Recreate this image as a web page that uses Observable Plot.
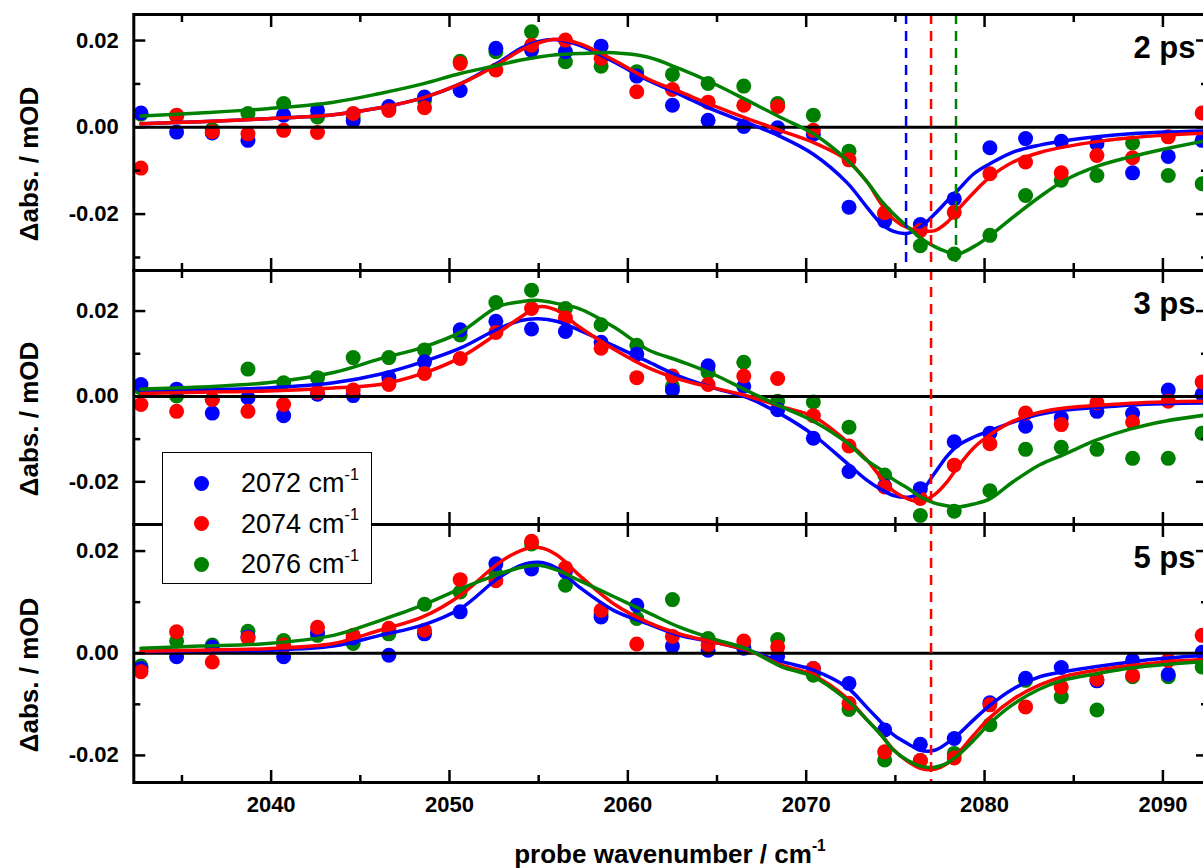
<!DOCTYPE html>
<html>
<head>
<meta charset="utf-8">
<script src="https://cdn.jsdelivr.net/npm/d3@7"></script>
<script src="https://cdn.jsdelivr.net/npm/@observablehq/plot@0.6"></script>
<style>
html, body { margin: 0; padding: 0; background: #fff; overflow: hidden; }
#wrap { position: relative; width: 1203px; height: 868px; overflow: hidden; font-family: Arial, "Liberation Sans", sans-serif; color: #000; }
.panel { position: absolute; left: 0; }
.ytitle { position: absolute; left: 29px; transform: translate(-50%, -50%) rotate(-90deg); white-space: nowrap; font-size: 26px; font-weight: bold; }
#xtitle { position: absolute; left: 670px; top: 854px; transform: translate(-50%, -50%); white-space: nowrap; font-size: 26px; font-weight: bold; }
sup { font-size: 60%; vertical-align: 0; position: relative; top: -0.75em; }
#legend { position: absolute; left: 162px; top: 452px; width: 210px; height: 132px; box-sizing: border-box; border: 1.5px solid #000; background: #fff; }
.lg-dot { position: absolute; width: 15px; height: 15px; border-radius: 50%; }
.lg-text { position: absolute; left: 78px; transform: translateY(-50%); font-size: 27px; white-space: nowrap; }
</style>
</head>
<body>
<div id="wrap"></div>
<script>
// ---------------- data ----------------
const delays = ["2 ps", "3 ps", "5 ps"];
const pumpWavenumbers = ["2072", "2074", "2076"];
const colors = ["#0000ff", "#ff0000", "#008000"];

const xProbe = [2032.7, 2034.7, 2036.7, 2038.7, 2040.7, 2042.6, 2044.6, 2046.6, 2048.6, 2050.6,
  2052.6, 2054.6, 2056.5, 2058.5, 2060.5, 2062.5, 2064.5, 2066.5, 2068.4, 2070.4,
  2072.4, 2074.4, 2076.4, 2078.3, 2080.3, 2082.3, 2084.3, 2086.3, 2088.3, 2090.3, 2092.2];

// measured points, 2 ps
const blue2ps = [0.0033, -0.0011, -0.0013, -0.0030, 0.0028, 0.0039, 0.0015, 0.0048, 0.0070, 0.0085, 0.0182, 0.0178, 0.0174, 0.0187, 0.0118, 0.0051, 0.0016, 0.0002, -0.0001, -0.0016, -0.0184, -0.0216, -0.0224, -0.0165, -0.0047, -0.0026, -0.0032, -0.0038, -0.0105, -0.0067, -0.0030];
const red2ps = [-0.0094, 0.0028, -0.0010, -0.0015, -0.0007, -0.0012, 0.0032, 0.0039, 0.0045, 0.0147, 0.0132, 0.0189, 0.0201, 0.0159, 0.0082, 0.0087, 0.0058, 0.0051, 0.0048, -0.0007, -0.0075, -0.0197, -0.0238, -0.0196, -0.0107, -0.0080, -0.0105, -0.0065, -0.0070, -0.0022, 0.0033];
const green2ps = [0.0030, 0.0025, -0.0005, 0.0032, 0.0055, 0.0024, 0.0022, 0.0042, 0.0062, 0.0152, 0.0174, 0.0220, 0.0151, 0.0141, 0.0128, 0.0122, 0.0101, 0.0095, 0.0055, 0.0028, -0.0055, -0.0200, -0.0273, -0.0292, -0.0249, -0.0157, -0.0122, -0.0111, -0.0036, -0.0111, -0.0130];
// measured points, 3 ps
const blue3ps = [0.0028, 0.0017, -0.0039, -0.0003, -0.0045, 0.0005, 0.0002, 0.0044, 0.0081, 0.0156, 0.0176, 0.0158, 0.0152, 0.0127, 0.0099, 0.0015, 0.0072, 0.0024, -0.0031, -0.0098, -0.0176, -0.0210, -0.0216, -0.0106, -0.0086, -0.0070, -0.0050, -0.0035, -0.0040, 0.0015, 0.0005];
const red3ps = [-0.0019, -0.0035, -0.0007, -0.0035, -0.0019, 0.0010, 0.0015, 0.0028, 0.0054, 0.0089, 0.0150, 0.0206, 0.0184, 0.0113, 0.0044, 0.0048, 0.0028, 0.0048, 0.0042, -0.0045, -0.0116, -0.0212, -0.0239, -0.0161, -0.0111, -0.0039, -0.0066, -0.0015, -0.0060, -0.0011, 0.0034];
const green3ps = [0.0020, 0.0001, -0.0007, 0.0064, 0.0032, 0.0044, 0.0091, 0.0091, 0.0109, 0.0144, 0.0220, 0.0249, 0.0206, 0.0168, 0.0120, 0.0024, 0.0056, 0.0080, -0.0011, -0.0013, -0.0072, -0.0184, -0.0279, -0.0269, -0.0221, -0.0124, -0.0119, -0.0124, -0.0145, -0.0145, -0.0086];
// measured points, 5 ps
const blue5ps = [-0.0030, -0.0007, 0.0012, 0.0032, -0.0007, 0.0040, 0.0030, -0.0004, 0.0038, 0.0081, 0.0175, 0.0165, 0.0160, 0.0071, 0.0094, 0.0014, 0.0006, 0.0010, -0.0006, -0.0030, -0.0059, -0.0150, -0.0178, -0.0167, -0.0097, -0.0049, -0.0028, -0.0054, -0.0014, -0.0041, 0.0002];
const red5ps = [-0.0036, 0.0042, -0.0017, 0.0030, 0.0016, 0.0051, 0.0035, 0.0049, 0.0045, 0.0144, 0.0142, 0.0219, 0.0167, 0.0084, 0.0018, 0.0033, 0.0016, 0.0024, 0.0012, -0.0030, -0.0098, -0.0193, -0.0210, -0.0205, -0.0101, -0.0105, -0.0066, -0.0051, -0.0043, -0.0014, 0.0035];
const green5ps = [-0.0025, 0.0024, 0.0016, 0.0043, 0.0025, 0.0035, 0.0019, 0.0038, 0.0096, 0.0120, 0.0156, 0.0214, 0.0133, 0.0077, 0.0068, 0.0105, 0.0029, 0.0012, 0.0027, -0.0043, -0.0110, -0.0209, -0.0210, -0.0196, -0.0140, -0.0053, -0.0085, -0.0111, -0.0046, -0.0046, -0.0027];

// fitted curves
const curveX = [2032.7, 2036.0, 2039.8, 2043.5, 2046.1, 2048.5, 2050.6, 2052.7, 2054.0, 2055.0, 2056.0, 2057.3, 2059.2, 2061.1, 2062.9, 2064.8, 2066.7, 2068.6, 2070.4, 2072.3, 2073.4, 2074.2, 2074.9, 2075.7, 2076.4, 2077.2, 2077.9, 2078.5, 2079.4, 2080.3, 2081.6, 2083.1, 2084.5, 2086.3, 2088.2, 2090.1, 2092.5];
const fitBlue2ps = [0.0008, 0.0013, 0.0020, 0.0029, 0.0045, 0.0068, 0.0100, 0.0148, 0.0182, 0.0198, 0.0202, 0.0189, 0.0151, 0.0109, 0.0076, 0.0040, 0.0010, -0.0022, -0.0062, -0.0128, -0.0184, -0.0222, -0.0240, -0.0244, -0.0230, -0.0200, -0.0170, -0.0145, -0.0107, -0.0084, -0.0057, -0.0041, -0.0031, -0.0022, -0.0015, -0.0011, -0.0008];
const fitRed2ps = [0.0008, 0.0013, 0.0020, 0.0029, 0.0045, 0.0068, 0.0100, 0.0145, 0.0178, 0.0195, 0.0203, 0.0193, 0.0155, 0.0112, 0.0082, 0.0050, 0.0020, -0.0008, -0.0035, -0.0076, -0.0125, -0.0176, -0.0212, -0.0232, -0.0238, -0.0238, -0.0219, -0.0190, -0.0150, -0.0115, -0.0080, -0.0058, -0.0045, -0.0033, -0.0024, -0.0018, -0.0013];
const fitGreen2ps = [0.0026, 0.0033, 0.0043, 0.0058, 0.0078, 0.0100, 0.0124, 0.0143, 0.0155, 0.0162, 0.0167, 0.0170, 0.0172, 0.0162, 0.0135, 0.0101, 0.0062, 0.0022, -0.0015, -0.0076, -0.0125, -0.0169, -0.0200, -0.0230, -0.0255, -0.0275, -0.0287, -0.0292, -0.0275, -0.0250, -0.0207, -0.0160, -0.0122, -0.0090, -0.0068, -0.0050, -0.0030];
const fitBlue3ps = [0.0013, 0.0016, 0.0020, 0.0032, 0.0052, 0.0081, 0.0113, 0.0158, 0.0178, 0.0182, 0.0176, 0.0155, 0.0119, 0.0082, 0.0047, 0.0020, -0.0003, -0.0042, -0.0090, -0.0157, -0.0196, -0.0218, -0.0232, -0.0236, -0.0224, -0.0180, -0.0140, -0.0115, -0.0095, -0.0080, -0.0060, -0.0042, -0.0032, -0.0026, -0.0020, -0.0017, -0.0015];
const fitRed3ps = [0.0007, 0.0010, 0.0013, 0.0020, 0.0028, 0.0054, 0.0091, 0.0148, 0.0186, 0.0210, 0.0202, 0.0162, 0.0111, 0.0068, 0.0040, 0.0020, 0.0001, -0.0024, -0.0047, -0.0106, -0.0149, -0.0190, -0.0222, -0.0240, -0.0246, -0.0230, -0.0200, -0.0165, -0.0120, -0.0090, -0.0058, -0.0037, -0.0027, -0.0021, -0.0016, -0.0013, -0.0011];
const fitGreen3ps = [0.0017, 0.0022, 0.0032, 0.0056, 0.0088, 0.0115, 0.0150, 0.0210, 0.0222, 0.0225, 0.0218, 0.0205, 0.0163, 0.0110, 0.0083, 0.0052, 0.0013, -0.0024, -0.0058, -0.0109, -0.0150, -0.0172, -0.0195, -0.0215, -0.0235, -0.0250, -0.0256, -0.0259, -0.0252, -0.0240, -0.0200, -0.0160, -0.0135, -0.0102, -0.0076, -0.0058, -0.0043];
const fitBlue5ps = [0.0003, 0.0005, 0.0006, 0.0014, 0.0035, 0.0055, 0.0087, 0.0146, 0.0172, 0.0178, 0.0167, 0.0129, 0.0084, 0.0058, 0.0035, 0.0022, 0.0006, -0.0016, -0.0033, -0.0067, -0.0106, -0.0135, -0.0160, -0.0177, -0.0190, -0.0190, -0.0176, -0.0160, -0.0130, -0.0102, -0.0070, -0.0046, -0.0036, -0.0026, -0.0017, -0.0010, -0.0004];
const fitRed5ps = [0.0004, 0.0006, 0.0009, 0.0019, 0.0045, 0.0071, 0.0113, 0.0175, 0.0201, 0.0207, 0.0193, 0.0152, 0.0097, 0.0061, 0.0038, 0.0022, 0.0006, -0.0023, -0.0043, -0.0088, -0.0130, -0.0159, -0.0189, -0.0212, -0.0225, -0.0227, -0.0216, -0.0196, -0.0160, -0.0126, -0.0090, -0.0062, -0.0045, -0.0033, -0.0024, -0.0017, -0.0012];
const fitGreen5ps = [0.0010, 0.0014, 0.0019, 0.0035, 0.0064, 0.0094, 0.0126, 0.0154, 0.0168, 0.0172, 0.0163, 0.0142, 0.0111, 0.0080, 0.0051, 0.0028, 0.0008, -0.0026, -0.0046, -0.0092, -0.0130, -0.0160, -0.0190, -0.0210, -0.0221, -0.0223, -0.0215, -0.0200, -0.0170, -0.0137, -0.0100, -0.0070, -0.0052, -0.0040, -0.0029, -0.0022, -0.0016];

// band-centre markers (dashed)
const dash2ps = [2075.6, 2077.0, 2078.4];
const dash2psColors = ["#0000ff", "#ff0000", "#008000"];
const dashOther = [2077.0];
const dashOtherColors = ["#ff0000"];

// ticks
const xMajorTicks = [2040, 2050, 2060, 2070, 2080, 2090];
const xMinorTicks = [2035, 2045, 2055, 2065, 2075, 2085];
const yMajorTicks = [-0.02, 0, 0.02];
const yMinorTicks = [-0.03, -0.01, 0.01, 0.03];

// ---------------- drawing ----------------
const xDomain = [2032.3, 2092.5];
const FONT = "Arial, 'Liberation Sans', sans-serif";

function buildPanel(cfg) {
  const {series, fits, dashes, dashColors, label, yDomain, height, mt, mb, showX} = cfg;
  const pts = [];
  for (const k of [2, 0, 1]) series[k].forEach((v, i) => pts.push({x: xProbe[i], y: v, c: colors[k]}));
  const fitRows = [];
  [0, 1, 2].forEach(k => fits[k].forEach((v, i) => fitRows.push({x: curveX[i], y: v, c: colors[k]})));
  const dashRows = dashes.map((x, i) => ({x, c: dashColors[i]}));
  const inDom = t => t >= yDomain[0] - 1e-9 && t <= yDomain[1] + 1e-9;
  const yMaj = yMajorTicks.filter(inDom), yMin = yMinorTicks.filter(inDom);
  const tk = {fill: "none", stroke: "#000", strokeWidth: 2.5};
  const marks = [
    Plot.dot(pts, {x: "x", y: "y", fill: "c", r: 7.5}),
    Plot.ruleY([0], {stroke: "#000", strokeWidth: 3}),
    Plot.line(fitRows, {x: "x", y: "y", z: "c", stroke: "c", strokeWidth: 3.5, curve: "catmull-rom"}),
    Plot.ruleX(dashRows, {x: "x", stroke: "c", strokeWidth: 2.5, strokeDasharray: "10,7"}),
    Plot.frame({stroke: "#000", strokeWidth: 3}),
    Plot.axisX(xMajorTicks, {anchor: "bottom", tickSize: -12, ...tk}),
    Plot.axisX(xMinorTicks, {anchor: "bottom", tickSize: -7, ...tk}),
    Plot.axisX(xMajorTicks, {anchor: "top", tickSize: -12, ...tk}),
    Plot.axisX(xMinorTicks, {anchor: "top", tickSize: -7, ...tk}),
    Plot.axisY(yMaj, {anchor: "left", tickSize: -12, ...tk}),
    Plot.axisY(yMin, {anchor: "left", tickSize: -7, ...tk}),
    Plot.axisY(yMaj, {anchor: "right", tickSize: -12, ...tk}),
    Plot.axisY(yMin, {anchor: "right", tickSize: -7, ...tk}),
    Plot.axisY(yMaj, {anchor: "left", tickSize: 0, tickPadding: 15, tickFormat: d => d.toFixed(2),
      fontSize: 22, fontWeight: "bold", fill: "#000", label: null}),
    Plot.text([label], {text: d => d, frameAnchor: "top-right", textAnchor: "start", lineAnchor: "middle",
      dx: -74, dy: 34, fontSize: 31, fontWeight: "bold", fill: "#000"})
  ];
  if (showX) marks.push(Plot.axisX(xMajorTicks, {anchor: "bottom", tickSize: 0, tickPadding: 14,
    tickFormat: d => String(d), fontSize: 22, fontWeight: "bold", fill: "#000", label: null}));
  return Plot.plot({
    width: 1210, height,
    marginLeft: 133.3, marginRight: 3, marginTop: mt, marginBottom: mb,
    x: {domain: xDomain},
    y: {domain: yDomain},
    color: {type: "identity"},
    style: {background: "transparent", overflow: "visible", fontFamily: FONT, color: "#000"},
    marks
  });
}

const wrap = document.getElementById("wrap");
const panels = [
  {top: 0, height: 270, mt: 14, mb: 0, yDomain: [-0.033, 0.026], series: [blue2ps, red2ps, green2ps],
   fits: [fitBlue2ps, fitRed2ps, fitGreen2ps], dashes: dash2ps, dashColors: dash2psColors, label: delays[0], titleY: 164},
  {top: 270, height: 254, mt: 0, mb: 0, yDomain: [-0.030, 0.0295], series: [blue3ps, red3ps, green3ps],
   fits: [fitBlue3ps, fitRed3ps, fitGreen3ps], dashes: dashOther, dashColors: dashOtherColors, label: delays[1], titleY: 419},
  {top: 524, height: 344, mt: 0, mb: 86, yDomain: [-0.0253, 0.0252], series: [blue5ps, red5ps, green5ps],
   fits: [fitBlue5ps, fitRed5ps, fitGreen5ps], dashes: dashOther, dashColors: dashOtherColors, label: delays[2], titleY: 675, showX: true}
];
for (const p of panels) {
  const svg = buildPanel(p);
  svg.classList.add("panel");
  svg.style.top = p.top + "px";
  svg.style.position = "absolute";
  svg.style.left = "0px";
  svg.style.maxWidth = "none";
  wrap.appendChild(svg);
  const t = document.createElement("div");
  t.className = "ytitle";
  t.style.top = p.titleY + "px";
  t.textContent = "\u0394abs. / mOD";
  wrap.appendChild(t);
}

const xt = document.createElement("div");
xt.id = "xtitle";
xt.innerHTML = "probe wavenumber / cm<sup>-1</sup>";
wrap.appendChild(xt);

const lg = document.createElement("div");
lg.id = "legend";
const rowY = [30, 70.5, 111];
pumpWavenumbers.forEach((w, i) => {
  const d = document.createElement("div");
  d.className = "lg-dot";
  d.style.background = colors[i];
  d.style.left = (38 - 7.5) + "px";
  d.style.top = (rowY[i] - 7.5) + "px";
  lg.appendChild(d);
  const s = document.createElement("div");
  s.className = "lg-text";
  s.style.top = rowY[i] + "px";
  s.innerHTML = w + " cm<sup>-1</sup>";
  lg.appendChild(s);
});
wrap.appendChild(lg);
</script>
</body>
</html>
